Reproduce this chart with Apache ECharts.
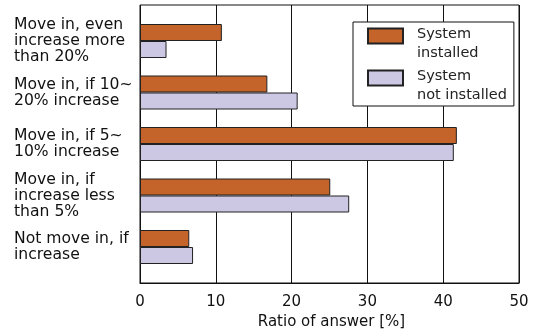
<!DOCTYPE html>
<html>
<head>
<meta charset="utf-8">
<script src="https://cdn.jsdelivr.net/npm/echarts@6/dist/echarts.min.js"></script>
<style>
  html, body { margin: 0; padding: 0; background: #fff; }
  #chart { width: 533px; height: 329px; }
</style>
</head>
<body>
<div id="chart"></div>
<script>
// Data
const categories = [
  'Move in, even\nincrease more\nthan 20%',
  'Move in, if 10~\n20% increase',
  'Move in, if 5~\n10% increase',
  'Move in, if\nincrease less\nthan 5%',
  'Not move in, if\nincrease'
];
const installed = [10.8, 16.8, 41.8, 25.1, 6.5];
const notInstalled = [3.5, 20.8, 41.4, 27.6, 7.0];
const seriesNames = ['System\ninstalled', 'System\nnot installed'];
const xTicks = [0, 10, 20, 30, 40, 50];

const font = 'DejaVu Sans';
const chart = echarts.init(document.getElementById('chart'));

// swatch in the upper half of the icon box, so the text sits a bit lower
const swatch = 'path://M0,0L35,0L35,15L0,15Z M0,31L0,31';

const options = {
  animation: false,
  grid: [
    // bars
    { left: 140, right: 14, top: 15.25, height: 257.5, outerBoundsMode: 'none' },
    // frame with vertical lines
    { left: 140, right: 14, top: 5, bottom: 46, show: true, borderColor: '#111', borderWidth: 1, z: 0, outerBoundsMode: 'none' }
  ],
  xAxis: [
    { gridIndex: 0, type: 'value', min: 0, max: 50, interval: 10, show: false },
    {
      gridIndex: 1, type: 'value', min: xTicks[0], max: xTicks[xTicks.length - 1], interval: 10,
      axisLine: { show: true, lineStyle: { color: '#111' } },
      axisTick: { show: false },
      axisLabel: { color: '#111', fontFamily: font, fontSize: 15, margin: 12 },
      splitLine: { show: true, lineStyle: { color: '#111', width: 1 } },
      name: 'Ratio of answer [%]',
      nameLocation: 'middle',
      nameGap: 32,
      nameTextStyle: { color: '#111', fontFamily: font, fontSize: 15, padding: [0, 0, 0, 4] }
    }
  ],
  yAxis: [
    {
      gridIndex: 0, type: 'category', data: categories, inverse: true,
      axisLine: { show: false },
      axisTick: { show: false },
      axisLabel: {
        color: '#111', fontFamily: font, fontSize: 15.6, lineHeight: 16,
        align: 'left', margin: 126
      }
    },
    { gridIndex: 1, type: 'value', show: false }
  ],
  legend: {
    orient: 'vertical',
    left: 353,
    top: 22,
    padding: [3, 7, 1, 14],
    backgroundColor: '#fff',
    borderColor: '#111',
    borderWidth: 1,
    icon: swatch,
    itemWidth: 35,
    itemHeight: 31,
    itemGap: 4,
    textStyle: { color: '#222', fontFamily: font, fontSize: 14.5, lineHeight: 19, padding: [0, 0, 0, 9] },
    data: seriesNames
  },
  series: [
    {
      name: seriesNames[0], type: 'bar', xAxisIndex: 0, yAxisIndex: 0,
      data: installed, barWidth: 17, barGap: '0%',
      itemStyle: { color: '#C4632A', borderColor: '#222', borderWidth: 1 }
    },
    {
      name: seriesNames[1], type: 'bar', xAxisIndex: 0, yAxisIndex: 0,
      data: notInstalled, barWidth: 17, barGap: '0%',
      itemStyle: { color: '#CCC8E4', borderColor: '#222', borderWidth: 1 }
    }
  ]
};

chart.setOption(options);
</script>
</body>
</html>
